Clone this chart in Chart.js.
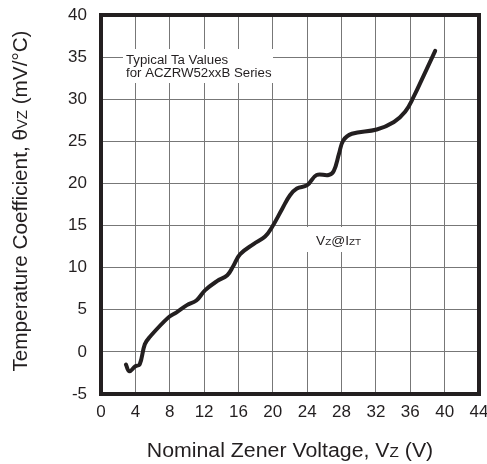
<!DOCTYPE html>
<html>
<head>
<meta charset="utf-8">
<script src="https://cdn.jsdelivr.net/npm/chart.js@4.4.0/dist/chart.umd.min.js"></script>
<style>
  html, body { margin: 0; padding: 0; background: #fff; }
  #wrap { width: 487px; height: 464px; }
</style>
</head>
<body>
<div id="wrap"><canvas id="chart1"></canvas></div>
<script>
// values
var voltage = [2.9, 3.3, 4.0, 4.5, 5.1, 5.7, 7.85, 8.8, 10.0, 11.1, 12.1, 13.5, 14.7, 15.4, 16.2, 17.75, 19.1, 19.9, 21.1, 22.0, 22.8, 24.0, 25.1, 26.5, 27.1, 27.7, 28.2, 29.2, 32.1, 34.1, 35.4, 36.4, 37.6, 38.9];
var coeff = [-1.5, -2.3, -1.7, -1.5, 0.9, 1.8, 4.1, 4.7, 5.55, 6.1, 7.3, 8.4, 9.1, 10.2, 11.6, 12.8, 13.7, 14.8, 17.0, 18.6, 19.4, 19.8, 21.0, 21.0, 21.5, 23.5, 25.1, 25.9, 26.4, 27.3, 28.5, 30.3, 32.9, 35.75];
var xTicks = [0, 4, 8, 12, 16, 20, 24, 28, 32, 36, 40, 44];
var yTicks = [-5, 0, 5, 10, 15, 20, 25, 30, 35, 40];

var ink = "#231f20";
var fontName = "'Liberation Sans', Arial, sans-serif";

var points = [];
for (var i = 0; i < voltage.length; i++) points.push({ x: voltage[i], y: coeff[i] });

// draws text pieces, some as small subscripts, stretched a bit wider
function drawPieces(ctx, pieces, size, x, y, align, stretch) {
    var total = 0;
    pieces.forEach(function (p) {
        ctx.font = (p.sub ? size * 0.72 : size) + "px " + fontName;
        total += ctx.measureText(p.t).width;
    });
    ctx.save();
    ctx.translate(x, y);
    ctx.scale(stretch, 1);
    var cx = align === "center" ? -total / 2 : 0;
    pieces.forEach(function (p) {
        ctx.font = (p.sub ? size * 0.72 : size) + "px " + fontName;
        ctx.fillText(p.t, cx, 0);
        cx += ctx.measureText(p.t).width;
    });
    ctx.restore();
}

var decor = {
    id: "decor",
    afterDatasetsDraw: function (chart) {
        var ctx = chart.ctx, a = chart.chartArea;
        ctx.save();
        // frame
        ctx.strokeStyle = ink;
        ctx.lineWidth = 4;
        ctx.strokeRect(a.left, a.top, a.right - a.left, a.bottom - a.top);

        ctx.textBaseline = "alphabetic";
        ctx.textAlign = "left";

        // note box
        ctx.fillStyle = "#fff";
        ctx.fillRect(123, 49, 150, 34);
        ctx.fillStyle = ink;
        drawPieces(ctx, [{ t: "Typical Ta Values" }], 12.5, 126, 64, "left", 1.06);
        drawPieces(ctx, [{ t: "for ACZRW52xxB Series" }], 12.5, 126, 77, "left", 1.06);

        // Vz@Izt label
        ctx.fillStyle = "#fff";
        ctx.fillRect(303, 227, 62, 25);
        ctx.fillStyle = ink;
        drawPieces(ctx, [{ t: "V" }, { t: "Z", sub: true }, { t: "@I" }, { t: "ZT", sub: true }], 13, 316, 245, "left", 1.06);

        // x title
        drawPieces(ctx, [{ t: "Nominal Zener Voltage, V" }, { t: "Z", sub: true }, { t: " (V)" }], 20, 290, 457, "center", 1.065);

        // y title
        ctx.translate(27, 201);
        ctx.rotate(-Math.PI / 2);
        drawPieces(ctx, [{ t: "Temperature Coefficient, \u03b8" }, { t: "VZ", sub: true }, { t: " (mV/\u00b0C)" }], 20, 0, 0, "center", 1.035);
        ctx.restore();
    }
};

var chart1 = new Chart(document.getElementById("chart1").getContext("2d"), {
    type: "line",
    data: {
        datasets: [{
            data: points,
            borderColor: ink,
            borderWidth: 4,
            pointRadius: 0,
            tension: 0.4,
            fill: false,
            borderCapStyle: "round",
            borderJoinStyle: "round"
        }]
    },
    options: {
        responsive: true,
        maintainAspectRatio: false,
        animation: false,
        layout: { padding: { left: 0, top: 15, right: 8, bottom: 0 } },
        plugins: { legend: { display: false }, tooltip: { enabled: false } },
        scales: {
            x: {
                type: "linear",
                min: 0, max: 44,
                afterBuildTicks: function (s) { s.ticks = xTicks.map(function (v) { return { value: v }; }); },
                afterFit: function (s) { s.height = 70; s.paddingLeft = 0; s.paddingRight = 0; },
                grid: { color: "#777", lineWidth: 1, drawTicks: false },
                border: { display: false },
                ticks: { color: ink, font: { family: fontName, size: 17 }, padding: 8, maxRotation: 0, autoSkip: false }
            },
            y: {
                min: -5, max: 40,
                afterBuildTicks: function (s) { s.ticks = yTicks.map(function (v) { return { value: v }; }); },
                afterFit: function (s) { s.width = 101; s.paddingTop = 0; s.paddingBottom = 0; },
                grid: { color: "#777", lineWidth: 1, drawTicks: false },
                border: { display: false },
                ticks: { color: ink, font: { family: fontName, size: 17 }, padding: 14, autoSkip: false }
            }
        }
    },
    plugins: [decor]
});
</script>
</body>
</html>
